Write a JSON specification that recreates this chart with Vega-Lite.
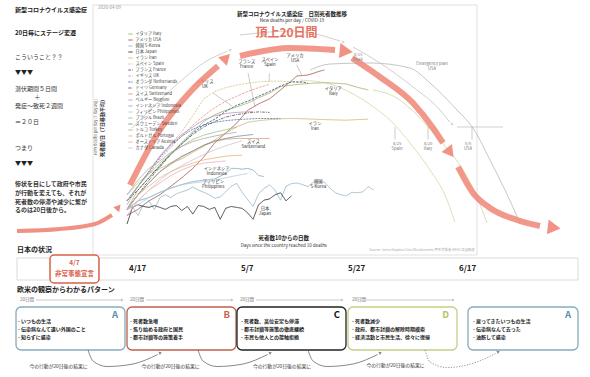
{
"$schema":"https://vega.github.io/schema/vega-lite/v6.json",
"width":590,"height":377,"autosize":"none","padding":0,"background":"white",
"config":{"view":{"stroke":null},"font":"Noto Sans CJK JP","text":{"font":"Noto Sans CJK JP"}},
"resolve":{"scale":{"y":"independent","color":"independent","stroke":"independent","strokeDash":"independent","angle":"independent"}},
"layer":[
{
"encoding":{"x":{"field":"d","type":"quantitative","scale":{"domain":[-23.16,84.44],"nice":false,"zero":false},"axis":null},
"y":{"field":"y","type":"quantitative","scale":{"domain":[0,377],"nice":false,"zero":false,"reverse":true},"axis":null}},
"layer":[
{"data":{"values":[{"d1":-6.2,"d2":63.83,"y1":5,"y2":255}]},"mark":{"type":"rect","fill":"white","stroke":"#d9d9d9","strokeWidth":0.8},
"encoding":{"x":{"field":"d1","type":"quantitative","scale":{"domain":[-23.16,84.44],"nice":false,"zero":false},"axis":null},"x2":{"field":"d2"},"y":{"field":"y1","type":"quantitative","scale":{"domain":[0,377],"nice":false,"zero":false,"reverse":true},"axis":null},"y2":{"field":"y2"}}},
{"data":{"values":[{"d1":-20.06,"d2":82.25,"y1":258,"y2":280}]},"mark":{"type":"rect","fillOpacity":0,"stroke":"#d0d0d0","strokeWidth":0.8},
"encoding":{"x":{"field":"d1","type":"quantitative","scale":{"domain":[-23.16,84.44],"nice":false,"zero":false},"axis":null},"x2":{"field":"d2"},"y":{"field":"y1","type":"quantitative","scale":{"domain":[0,377],"nice":false,"zero":false,"reverse":true},"axis":null},"y2":{"field":"y2"}}},
{"data":{"values":[{"d":0},{"d":20},{"d":40},{"d":60}]},"mark":{"type":"rule","stroke":"#cccccc","strokeWidth":0.7},
"encoding":{"y":{"datum":224,"type":"quantitative","scale":{"domain":[0,377],"nice":false,"zero":false,"reverse":true},"axis":null},"y2":{"datum":300}}},
{"data":{"values":[{"t":"新型コロナウイルス感染症","d":-20.43,"y":10},{"t":"20日毎にステージ変遷","d":-20.43,"y":33},{"t":"▼▼▼","d":-20.43,"y":72},{"t":"▼▼▼","d":-20.43,"y":163}]},
"mark":{"type":"text","align":"left","baseline":"middle","fontSize":6,"fontWeight":"bold","color":"#222"},"encoding":{"text":{"field":"t"}}},
{"data":{"values":[{"t":"こういうこと？？","d":-20.43,"y":57},{"t":"潜伏期間５日間","d":-20.43,"y":89},{"t":"発症〜致死２週間","d":-20.43,"y":106},{"t":"＝２０日","d":-20.43,"y":122},{"t":"つまり","d":-20.43,"y":148},{"t":"＋","d":-16.9,"y":97}]},
"mark":{"type":"text","align":"left","baseline":"middle","fontSize":6,"color":"#333"},"encoding":{"text":{"field":"t"}}},
{"data":{"values":[{"t":"惨状を目にして政府や市民","d":-20.43,"y":184},{"t":"が行動を変えても、それが","d":-20.43,"y":193},{"t":"死者数の停滞や減少に繋が","d":-20.43,"y":202},{"t":"るのは20日後から。","d":-20.43,"y":210}]},
"mark":{"type":"text","align":"left","baseline":"middle","fontSize":6,"fontWeight":"bold","color":"#333"},"encoding":{"text":{"field":"t"}}},
{"data":{"values":[{"d":-20.06,"y":231},{"d":-12.22,"y":229},{"d":-5.84,"y":224},{"d":-2.74,"y":215}]},
"mark":{"type":"line","interpolate":"monotone","stroke":"#ee8676","strokeWidth":4,"opacity":0.9,"strokeCap":"butt"},"encoding":{}},
{"data":{"values":[{"d":-1.7,"y":208}]},"mark":{"type":"point","shape":"triangle","angle":40,"size":60,"filled":true,"color":"#ee8676","opacity":0.95},"encoding":{}},
{"data":{"values":[{"t":"2020-04-09","d":-5.29,"y":8}]},"mark":{"type":"text","align":"left","fontSize":4.5,"color":"#999"},"encoding":{"text":{"field":"t"}}},
{"data":{"values":[{"t":"新型コロナウイルス感染症　日別死者数推移","d":30.09,"y":14},{"t":"死者数10からの日数","d":28.6,"y":238}]},"mark":{"type":"text","fontSize":5.5,"fontWeight":"bold","color":"#222"},"encoding":{"text":{"field":"t"}}},
{"data":{"values":[{"t":"New deaths per day / COVID-19","d":30.09,"y":21},{"t":"Days since the country reached 10 deaths","d":28.6,"y":246}]},"mark":{"type":"text","fontSize":4.5,"color":"#333"},"encoding":{"text":{"field":"t"}}},
{"data":{"values":[{"t":"0","d":0},{"t":"10","d":10},{"t":"20","d":20},{"t":"30","d":30},{"t":"40","d":40},{"t":"50","d":50},{"t":"60","d":60}]},"mark":{"type":"text","fontSize":4.5,"color":"#444"},
"encoding":{"y":{"datum":229.5,"type":"quantitative","scale":{"domain":[0,377],"nice":false,"zero":false,"reverse":true},"axis":null},"text":{"field":"t"}}},
{"data":{"values":[{"t":"Source: Johns Hopkins Univ/Worldometer/厚生労働省/WHO/各国報道","d":63.4,"y":250}]},"mark":{"type":"text","align":"right","fontSize":3.3,"color":"#aaa"},"encoding":{"text":{"field":"t"}}},
{"data":{"values":[{"t":"死者数/日（7日移動平均）","d":-4.5,"y":127}]},"mark":{"type":"text","angle":270,"fontSize":5,"fontWeight":"bold","color":"#333"},"encoding":{"text":{"field":"t"}}},
{"data":{"values":[{"t":"New deaths per day (7-day avg)","d":-5.6,"y":127}]},"mark":{"type":"text","angle":270,"fontSize":3.8,"color":"#555"},"encoding":{"text":{"field":"t"}}},
{"data":{"values":[{"t":"日本の状況","d":-20.06,"y":250},{"t":"欧米の観察からわかるパターン","d":-20.06,"y":290}]},"mark":{"type":"text","align":"left","fontSize":7,"fontWeight":"bold","color":"#222"},"encoding":{"text":{"field":"t"}}},
{"data":{"values":[{"d1":-14.04,"d2":-5.11,"y1":255,"y2":283}]},"mark":{"type":"rect","fill":"white","stroke":"#d9604a","strokeWidth":1.5,"cornerRadius":4},
"encoding":{"x":{"field":"d1","type":"quantitative","scale":{"domain":[-23.16,84.44],"nice":false,"zero":false},"axis":null},"x2":{"field":"d2"},"y":{"field":"y1","type":"quantitative","scale":{"domain":[0,377],"nice":false,"zero":false,"reverse":true},"axis":null},"y2":{"field":"y2"}}},
{"data":{"values":[{"t":"4/7","d":-9.58,"y":263},{"t":"非常事態宣言","d":-9.58,"y":273.5}]},"mark":{"type":"text","fontSize":6.5,"fontWeight":"bold","color":"#d9604a"},"encoding":{"text":{"field":"t"}}},
{"data":{"values":[{"t":"4/17","d":0.36,"y":269},{"t":"5/7","d":20.79,"y":269},{"t":"5/27","d":40.3,"y":269},{"t":"6/17","d":60.55,"y":269}]},"mark":{"type":"text","align":"left","fontSize":8,"fontWeight":"bold","color":"#222"},"encoding":{"text":{"field":"t"}}},
{"data":{"values":[{"t":"20日間","d":-19.51,"y":300},{"t":"20日間","d":0.55,"y":300},{"t":"20日間","d":20.61,"y":300},{"t":"20日間","d":41.04,"y":300}]},"mark":{"type":"text","align":"left","fontSize":4.5,"color":"#777"},"encoding":{"text":{"field":"t"}}},
{"data":{"values":[{"d1":-16.6,"d2":-0.91,"y":300},{"d1":3.47,"d2":19.15,"y":300},{"d1":23.53,"d2":39.21,"y":300},{"d1":43.59,"d2":59.46,"y":300}]},"mark":{"type":"rule","stroke":"#aaaaaa","strokeWidth":0.6},
"encoding":{"x":{"field":"d1","type":"quantitative","scale":{"domain":[-23.16,84.44],"nice":false,"zero":false},"axis":null},"x2":{"field":"d2"}}},
{"data":{"values":[{"d":-0.91,"y":300},{"d":19.15,"y":300},{"d":39.21,"y":300},{"d":59.46,"y":300}]},"mark":{"type":"point","shape":"triangle","angle":90,"size":8,"filled":true,"color":"#aaaaaa"},"encoding":{}},
{"data":{"values":[{"b":"A","d1":-20.24,"d2":-0.36,"y1":307,"y2":350},{"b":"B","d1":0,"d2":19.88,"y1":307,"y2":350},{"b":"C","d1":20.06,"d2":39.94,"y1":307,"y2":350},{"b":"D","d1":40.31,"d2":60.19,"y1":307,"y2":350},{"b":"A2","d1":62.19,"d2":82.25,"y1":307,"y2":350}]},
"mark":{"type":"rect","fill":"white","strokeWidth":1.3,"cornerRadius":5},
"encoding":{"x":{"field":"d1","type":"quantitative","scale":{"domain":[-23.16,84.44],"nice":false,"zero":false},"axis":null},"x2":{"field":"d2"},"y":{"field":"y1","type":"quantitative","scale":{"domain":[0,377],"nice":false,"zero":false,"reverse":true},"axis":null},"y2":{"field":"y2"},
"stroke":{"field":"b","type":"nominal","scale":{"domain":["A","B","C","D","A2"],"range":["#86aabd","#bd5f4b","#222222","#c3cf88","#86aabd"]},"legend":null}}},
{"data":{"values":[{"b":"A","t":"A","d":-1.64,"y":315},{"b":"B","t":"B","d":18.79,"y":315},{"b":"C","t":"C","d":38.85,"y":315},{"b":"D","t":"D","d":58.73,"y":315},{"b":"A2","t":"A","d":80.98,"y":315}]},
"mark":{"type":"text","align":"right","fontSize":9.5,"fontWeight":"bold"},
"encoding":{"text":{"field":"t"},"color":{"field":"b","type":"nominal","scale":{"domain":["A","B","C","D","A2"],"range":["#5a8db0","#c9604a","#111111","#b5c46a","#5a8db0"]},"legend":null}}},
{"data":{"values":[
{"t":"- いつもの生活","d":-19.88,"y":321},{"t":"- 伝染病なんて遠い外国のこと","d":-19.88,"y":329},{"t":"- 知らずに感染","d":-19.88,"y":337},
{"t":"- 死者数急増","d":0.55,"y":321},{"t":"- 焦り始める政府と国民","d":0.55,"y":329},{"t":"- 都市封鎖等の施策着手","d":0.55,"y":337},
{"t":"- 死者数、高位安定も停滞","d":20.79,"y":321},{"t":"- 都市封鎖等施策の徹底継続","d":20.79,"y":329},{"t":"- 市民も他人との接触拒絶","d":20.79,"y":337},
{"t":"- 死者数減少","d":41.04,"y":321},{"t":"- 政府、都市封鎖の解除時期模索","d":41.04,"y":329},{"t":"- 経済活動と市民生活、徐々に復帰","d":41.04,"y":337},
{"t":"- 戻ってきたいつもの生活","d":63.1,"y":321},{"t":"- 伝染病なんて去った","d":63.1,"y":329},{"t":"- 油断して感染","d":63.1,"y":337}]},
"mark":{"type":"text","align":"left","fontSize":5,"fontWeight":"bold","color":"#222"},"encoding":{"text":{"field":"t"}}},
{"data":{"values":[
{"a":"AB","d":-7.11,"y":350},{"a":"AB","d":-6.2,"y":361},{"a":"AB","d":-3.65,"y":366.5},{"a":"AB","d":1.09,"y":364},{"a":"AB","d":5.6,"y":354.5},
{"a":"BC","d":12.95,"y":350},{"a":"BC","d":13.86,"y":361},{"a":"BC","d":16.41,"y":366.5},{"a":"BC","d":21.15,"y":364},{"a":"BC","d":25.66,"y":354.5},
{"a":"CD","d":33.01,"y":350},{"a":"CD","d":33.92,"y":361},{"a":"CD","d":36.47,"y":366.5},{"a":"CD","d":41.21,"y":364},{"a":"CD","d":45.72,"y":354.5}]},
"mark":{"type":"line","interpolate":"monotone","stroke":"#555555","strokeWidth":0.7},"encoding":{"detail":{"field":"a"}}},
{"data":{"values":[{"d":54.35,"y":350},{"d":55.26,"y":362},{"d":58.36,"y":367.5},{"d":63.83,"y":362},{"d":67.2,"y":353.5}]},
"mark":{"type":"line","interpolate":"monotone","stroke":"#777777","strokeWidth":0.8,"strokeDash":[1.2,1.5]},"encoding":{}},
{"data":{"values":[{"d":6.02,"y":353},{"d":26.08,"y":353},{"d":46.14,"y":353},{"d":67.66,"y":352}]},"mark":{"type":"point","shape":"triangle","angle":65,"size":12,"filled":true,"color":"#555555"},"encoding":{}},
{"data":{"values":[{"t":"今の行動が20日後の結果に","d":-12.49,"y":367},{"t":"今の行動が20日後の結果に","d":7.93,"y":367},{"t":"今の行動が20日後の結果に","d":28.27,"y":367},{"t":"今の行動が20日後の結果に","d":48.97,"y":366}]},
"mark":{"type":"text","fontSize":4.8,"color":"#333"},"encoding":{"text":{"field":"t"}}}
]
},
{
"encoding":{"x":{"field":"d","type":"quantitative","scale":{"domain":[-23.16,84.44],"nice":false,"zero":false},"axis":null},
"y":{"field":"v","type":"quantitative","scale":{"type":"log","domain":[0.0007,41550],"nice":false},"axis":null}},
"layer":[
{"data":{"values":[{"d":2},{"d":4},{"d":6},{"d":8},{"d":12},{"d":14},{"d":16},{"d":18},{"d":22},{"d":24},{"d":26},{"d":28},{"d":32},{"d":34},{"d":36},{"d":38},{"d":42},{"d":44},{"d":46},{"d":48},{"d":52},{"d":54},{"d":56},{"d":58}]},
"mark":{"type":"rule","stroke":"#ebebeb","strokeWidth":0.5},"encoding":{"y":{"datum":1,"type":"quantitative","scale":{"type":"log","domain":[0.0007,41550],"nice":false},"axis":null},"y2":{"datum":10000}}},
{"data":{"values":[{"v":2},{"v":3},{"v":4},{"v":5},{"v":6},{"v":7},{"v":8},{"v":9},{"v":20},{"v":30},{"v":40},{"v":50},{"v":60},{"v":70},{"v":80},{"v":90},{"v":200},{"v":300},{"v":400},{"v":500},{"v":600},{"v":700},{"v":800},{"v":900},{"v":2000},{"v":3000},{"v":4000},{"v":5000},{"v":6000},{"v":7000},{"v":8000},{"v":9000}]},
"mark":{"type":"rule","stroke":"#ebebeb","strokeWidth":0.5},"encoding":{"x":{"datum":0,"type":"quantitative","scale":{"domain":[-23.16,84.44],"nice":false,"zero":false},"axis":null},"x2":{"datum":60}}},
{"data":{"values":[{"d":0},{"d":10},{"d":30},{"d":50},{"d":60}]},
"mark":{"type":"rule","stroke":"#d4d4d4","strokeWidth":0.6},"encoding":{"y":{"datum":1,"type":"quantitative","scale":{"type":"log","domain":[0.0007,41550],"nice":false},"axis":null},"y2":{"datum":10000}}},
{"data":{"values":[{"v":1},{"v":10},{"v":100},{"v":1000},{"v":10000}]},
"mark":{"type":"rule","stroke":"#cfcfcf","strokeWidth":0.6},"encoding":{"x":{"datum":0,"type":"quantitative","scale":{"domain":[-23.16,84.44],"nice":false,"zero":false},"axis":null},"x2":{"datum":60}}},
{"data":{"values":[{"d":20},{"d":40}]},
"mark":{"type":"rule","stroke":"#a8a8a8","strokeWidth":0.7},"encoding":{"y":{"datum":1,"type":"quantitative","scale":{"type":"log","domain":[0.0007,41550],"nice":false},"axis":null},"y2":{"datum":10000}}},
{"data":{"values":[{"t":"10,000","v":10000},{"t":"1,000","v":1000},{"t":"100","v":100},{"t":"10","v":10},{"t":"1","v":1}]},
"mark":{"type":"text","align":"right","fontSize":4.5,"color":"#444"},"encoding":{"x":{"datum":-0.91,"type":"quantitative","scale":{"domain":[-23.16,84.44],"nice":false,"zero":false},"axis":null},"text":{"field":"t"}}},
{"data":{"values":[
{"p":"US","d":33.38,"v":1497},{"p":"US","d":37.02,"v":1991},{"p":"US","d":44.32,"v":2089},{"p":"US","d":51.61,"v":1646},{"p":"US","d":55.26,"v":808},{"p":"US","d":60.19,"v":224},{"p":"US","d":63.1,"v":95.4},{"p":"US","d":66.2,"v":20.9},{"p":"US","d":68.94,"v":5.02},{"p":"US","d":71.68,"v":1.05},
{"p":"ES","d":31.55,"v":931},{"p":"ES","d":37.02,"v":770},{"p":"ES","d":41.58,"v":457},{"p":"ES","d":45.23,"v":246},{"p":"ES","d":47.97,"v":139},{"p":"ES","d":51.61,"v":46.8},{"p":"ES","d":55.26,"v":13},{"p":"ES","d":57.99,"v":3.96},{"p":"ES","d":59.81,"v":1.1},
{"p":"IT","d":44.87,"v":579},{"p":"IT","d":48.88,"v":416},{"p":"IT","d":51.98,"v":224},{"p":"IT","d":54.9,"v":100},{"p":"IT","d":58,"v":40.6},{"p":"IT","d":61.28,"v":13},{"p":"IT","d":63.83,"v":3.6},{"p":"IT","d":65.66,"v":1.05}]},
"mark":{"type":"line","interpolate":"monotone","strokeWidth":0.8},
"encoding":{"stroke":{"field":"p","type":"nominal","scale":{"domain":["US","ES","IT"],"range":["#b8b8b8","#dcd4a6","#cdd7a4"]},"legend":null}}},
{"data":{"values":[{"d1":60.19,"d2":68.57,"v":100}]},"mark":{"type":"rule","stroke":"#b0b0b0","strokeWidth":0.6},
"encoding":{"x":{"field":"d1","type":"quantitative","scale":{"domain":[-23.16,84.44],"nice":false,"zero":false},"axis":null},"x2":{"field":"d2"}}},
{"data":{"values":[{"d":48.88,"v1":100,"v2":55},{"d":54.9,"v1":100,"v2":55},{"d":62.92,"v1":100,"v2":55}]},"mark":{"type":"rule","stroke":"#999999","strokeWidth":0.5},
"encoding":{"y":{"field":"v1","type":"quantitative","scale":{"type":"log","domain":[0.0007,41550],"nice":false},"axis":null},"y2":{"field":"v2"}}},
{"data":{"values":[{"t":"4/25\nSpain","d":49.24,"v":50},{"t":"4/20\nItaly","d":54.9,"v":50},{"t":"5/5\nUSA","d":62.19,"v":50},{"t":"Emergency plan\nUSA","d":55.63,"v":2188}]},
"mark":{"type":"text","baseline":"top","lineBreak":"\n","lineHeight":5,"fontSize":4.2,"color":"#777"},"encoding":{"text":{"field":"t"}}},
{"data":{"values":[
{"c":"イタリア Italy","d":0,"v":2},{"c":"イタリア Italy","d":2,"v":5},{"c":"イタリア Italy","d":4,"v":9},{"c":"イタリア Italy","d":6,"v":16},{"c":"イタリア Italy","d":8,"v":28},{"c":"イタリア Italy","d":10,"v":48},{"c":"イタリア Italy","d":12,"v":80},{"c":"イタリア Italy","d":14,"v":130},{"c":"イタリア Italy","d":16,"v":180},{"c":"イタリア Italy","d":18,"v":220},{"c":"イタリア Italy","d":20,"v":260},{"c":"イタリア Italy","d":22,"v":310},{"c":"イタリア Italy","d":24,"v":400},{"c":"イタリア Italy","d":26,"v":500},{"c":"イタリア Italy","d":28,"v":680},{"c":"イタリア Italy","d":30,"v":730},{"c":"イタリア Italy","d":32,"v":770},{"c":"イタリア Italy","d":34,"v":800},{"c":"イタリア Italy","d":36,"v":820},{"c":"イタリア Italy","d":38,"v":800},{"c":"イタリア Italy","d":40,"v":770},{"c":"イタリア Italy","d":42,"v":660},{"c":"イタリア Italy","d":44,"v":580},
{"c":"アメリカ USA","d":0,"v":1.5},{"c":"アメリカ USA","d":2,"v":2},{"c":"アメリカ USA","d":4,"v":3},{"c":"アメリカ USA","d":6,"v":4},{"c":"アメリカ USA","d":8,"v":6},{"c":"アメリカ USA","d":10,"v":9},{"c":"アメリカ USA","d":12,"v":14},{"c":"アメリカ USA","d":14,"v":24},{"c":"アメリカ USA","d":16,"v":47},{"c":"アメリカ USA","d":18,"v":75},{"c":"アメリカ USA","d":20,"v":120},{"c":"アメリカ USA","d":22,"v":220},{"c":"アメリカ USA","d":24,"v":300},{"c":"アメリカ USA","d":26,"v":380},{"c":"アメリカ USA","d":28,"v":580},{"c":"アメリカ USA","d":30,"v":900},{"c":"アメリカ USA","d":31,"v":1130},{"c":"アメリカ USA","d":32,"v":1150},{"c":"アメリカ USA","d":33,"v":1180},{"c":"アメリカ USA","d":34,"v":1280},{"c":"アメリカ USA","d":35,"v":1400},{"c":"アメリカ USA","d":36,"v":1500},
{"c":"韓国 S-Korea","d":0,"v":2},{"c":"韓国 S-Korea","d":1,"v":2.3},{"c":"韓国 S-Korea","d":2,"v":1.5},{"c":"韓国 S-Korea","d":3,"v":2.5},{"c":"韓国 S-Korea","d":4,"v":3},{"c":"韓国 S-Korea","d":5,"v":2},{"c":"韓国 S-Korea","d":6,"v":3.5},{"c":"韓国 S-Korea","d":7,"v":4},{"c":"韓国 S-Korea","d":8,"v":3.5},{"c":"韓国 S-Korea","d":9,"v":4.2},{"c":"韓国 S-Korea","d":10,"v":4.6},{"c":"韓国 S-Korea","d":11,"v":5},{"c":"韓国 S-Korea","d":12,"v":5.8},{"c":"韓国 S-Korea","d":13,"v":5},{"c":"韓国 S-Korea","d":14,"v":4.5},{"c":"韓国 S-Korea","d":15,"v":4},{"c":"韓国 S-Korea","d":16,"v":3.4},{"c":"韓国 S-Korea","d":17,"v":3.6},{"c":"韓国 S-Korea","d":18,"v":4.6},{"c":"韓国 S-Korea","d":19,"v":6},{"c":"韓国 S-Korea","d":20,"v":6.9},{"c":"韓国 S-Korea","d":21,"v":4.5},{"c":"韓国 S-Korea","d":22,"v":3.2},{"c":"韓国 S-Korea","d":23,"v":2.3},{"c":"韓国 S-Korea","d":24,"v":4.2},{"c":"韓国 S-Korea","d":25,"v":5.4},{"c":"韓国 S-Korea","d":26,"v":6.4},{"c":"韓国 S-Korea","d":27,"v":5},{"c":"韓国 S-Korea","d":28,"v":3.1},{"c":"韓国 S-Korea","d":29,"v":6},{"c":"韓国 S-Korea","d":30,"v":6.8},{"c":"韓国 S-Korea","d":31,"v":7},{"c":"韓国 S-Korea","d":32,"v":6.5},{"c":"韓国 S-Korea","d":33,"v":5.9},{"c":"韓国 S-Korea","d":34,"v":7.3},{"c":"韓国 S-Korea","d":35,"v":7.5},{"c":"韓国 S-Korea","d":36,"v":7.3},{"c":"韓国 S-Korea","d":37,"v":5.5},{"c":"韓国 S-Korea","d":38,"v":4.4},{"c":"韓国 S-Korea","d":39,"v":4},{"c":"韓国 S-Korea","d":40,"v":3.8},{"c":"韓国 S-Korea","d":41,"v":4.5},{"c":"韓国 S-Korea","d":42,"v":4.4},{"c":"韓国 S-Korea","d":43,"v":4.6},{"c":"韓国 S-Korea","d":44,"v":5.9},{"c":"韓国 S-Korea","d":45,"v":5},
{"c":"日本 Japan","d":0,"v":1},{"c":"日本 Japan","d":1,"v":2.2},{"c":"日本 Japan","d":2,"v":2.5},{"c":"日本 Japan","d":3,"v":2.3},{"c":"日本 Japan","d":4,"v":2.2},{"c":"日本 Japan","d":5,"v":2.4},{"c":"日本 Japan","d":6,"v":2.2},{"c":"日本 Japan","d":7,"v":2},{"c":"日本 Japan","d":8,"v":2.3},{"c":"日本 Japan","d":9,"v":2.4},{"c":"日本 Japan","d":10,"v":1.9},{"c":"日本 Japan","d":11,"v":2.3},{"c":"日本 Japan","d":12,"v":1.6},{"c":"日本 Japan","d":13,"v":2.4},{"c":"日本 Japan","d":14,"v":2.3},{"c":"日本 Japan","d":15,"v":2},{"c":"日本 Japan","d":16,"v":2.2},{"c":"日本 Japan","d":17,"v":1.25},{"c":"日本 Japan","d":18,"v":2.1},{"c":"日本 Japan","d":19,"v":2.3},{"c":"日本 Japan","d":20,"v":2.2},{"c":"日本 Japan","d":21,"v":2.1},{"c":"日本 Japan","d":22,"v":1.7},{"c":"日本 Japan","d":23,"v":1.25},{"c":"日本 Japan","d":24,"v":2.5},{"c":"日本 Japan","d":25,"v":3.1},{"c":"日本 Japan","d":26,"v":3.3},{"c":"日本 Japan","d":27,"v":4},{"c":"日本 Japan","d":28,"v":4.4},{"c":"日本 Japan","d":29,"v":3},{"c":"日本 Japan","d":30,"v":3.8},
{"c":"イラン Iran","d":0,"v":4},{"c":"イラン Iran","d":2,"v":7},{"c":"イラン Iran","d":4,"v":11},{"c":"イラン Iran","d":6,"v":14},{"c":"イラン Iran","d":8,"v":18},{"c":"イラン Iran","d":10,"v":22},{"c":"イラン Iran","d":12,"v":30},{"c":"イラン Iran","d":14,"v":40},{"c":"イラン Iran","d":16,"v":54},{"c":"イラン Iran","d":18,"v":75},{"c":"イラン Iran","d":20,"v":100},{"c":"イラン Iran","d":22,"v":125},{"c":"イラン Iran","d":24,"v":135},{"c":"イラン Iran","d":26,"v":142},{"c":"イラン Iran","d":28,"v":148},{"c":"イラン Iran","d":30,"v":150},{"c":"イラン Iran","d":32,"v":148},{"c":"イラン Iran","d":34,"v":145},{"c":"イラン Iran","d":36,"v":142},{"c":"イラン Iran","d":38,"v":140},{"c":"イラン Iran","d":40,"v":138},{"c":"イラン Iran","d":42,"v":142},{"c":"イラン Iran","d":44,"v":145},
{"c":"スペイン Spain","d":0,"v":3},{"c":"スペイン Spain","d":2,"v":6},{"c":"スペイン Spain","d":4,"v":12},{"c":"スペイン Spain","d":6,"v":25},{"c":"スペイン Spain","d":8,"v":45},{"c":"スペイン Spain","d":10,"v":80},{"c":"スペイン Spain","d":12,"v":170},{"c":"スペイン Spain","d":14,"v":380},{"c":"スペイン Spain","d":16,"v":540},{"c":"スペイン Spain","d":18,"v":650},{"c":"スペイン Spain","d":20,"v":730},{"c":"スペイン Spain","d":22,"v":800},{"c":"スペイン Spain","d":24,"v":850},{"c":"スペイン Spain","d":26,"v":880},{"c":"スペイン Spain","d":28,"v":880},{"c":"スペイン Spain","d":30,"v":860},{"c":"スペイン Spain","d":32,"v":830},
{"c":"フランス France","d":0,"v":3},{"c":"フランス France","d":2,"v":5},{"c":"フランス France","d":4,"v":9},{"c":"フランス France","d":6,"v":16},{"c":"フランス France","d":8,"v":28},{"c":"フランス France","d":10,"v":45},{"c":"フランス France","d":12,"v":75},{"c":"フランス France","d":14,"v":110},{"c":"フランス France","d":16,"v":145},{"c":"フランス France","d":18,"v":210},{"c":"フランス France","d":20,"v":280},{"c":"フランス France","d":22,"v":340},{"c":"フランス France","d":24,"v":430},{"c":"フランス France","d":26,"v":540},{"c":"フランス France","d":28,"v":700},{"c":"フランス France","d":30,"v":850},{"c":"フランス France","d":32,"v":850},{"c":"フランス France","d":33,"v":800},
{"c":"イギリス UK","d":0,"v":3},{"c":"イギリス UK","d":2,"v":6},{"c":"イギリス UK","d":4,"v":11},{"c":"イギリス UK","d":6,"v":22},{"c":"イギリス UK","d":8,"v":38},{"c":"イギリス UK","d":10,"v":65},{"c":"イギリス UK","d":12,"v":110},{"c":"イギリス UK","d":14,"v":170},{"c":"イギリス UK","d":16,"v":250},{"c":"イギリス UK","d":18,"v":340},{"c":"イギリス UK","d":20,"v":430},{"c":"イギリス UK","d":22,"v":540},{"c":"イギリス UK","d":24,"v":650},{"c":"イギリス UK","d":26,"v":760},
{"c":"オランダ Netherlands","d":0,"v":3},{"c":"オランダ Netherlands","d":2,"v":6},{"c":"オランダ Netherlands","d":4,"v":12},{"c":"オランダ Netherlands","d":6,"v":24},{"c":"オランダ Netherlands","d":8,"v":42},{"c":"オランダ Netherlands","d":10,"v":65},{"c":"オランダ Netherlands","d":12,"v":90},{"c":"オランダ Netherlands","d":14,"v":110},{"c":"オランダ Netherlands","d":16,"v":125},{"c":"オランダ Netherlands","d":18,"v":135},{"c":"オランダ Netherlands","d":20,"v":142},{"c":"オランダ Netherlands","d":22,"v":146},{"c":"オランダ Netherlands","d":24,"v":150},{"c":"オランダ Netherlands","d":26,"v":150},{"c":"オランダ Netherlands","d":28,"v":148},
{"c":"ドイツ Germany","d":0,"v":2},{"c":"ドイツ Germany","d":2,"v":4},{"c":"ドイツ Germany","d":4,"v":8},{"c":"ドイツ Germany","d":6,"v":15},{"c":"ドイツ Germany","d":8,"v":27},{"c":"ドイツ Germany","d":10,"v":45},{"c":"ドイツ Germany","d":12,"v":70},{"c":"ドイツ Germany","d":14,"v":100},{"c":"ドイツ Germany","d":16,"v":130},{"c":"ドイツ Germany","d":18,"v":160},{"c":"ドイツ Germany","d":20,"v":180},{"c":"ドイツ Germany","d":22,"v":195},{"c":"ドイツ Germany","d":24,"v":205},{"c":"ドイツ Germany","d":26,"v":200},
{"c":"スイス Switzerland","d":0,"v":2},{"c":"スイス Switzerland","d":2,"v":4},{"c":"スイス Switzerland","d":4,"v":7},{"c":"スイス Switzerland","d":6,"v":12},{"c":"スイス Switzerland","d":8,"v":17},{"c":"スイス Switzerland","d":10,"v":24},{"c":"スイス Switzerland","d":12,"v":32},{"c":"スイス Switzerland","d":14,"v":42},{"c":"スイス Switzerland","d":16,"v":50},{"c":"スイス Switzerland","d":18,"v":56},{"c":"スイス Switzerland","d":20,"v":58},{"c":"スイス Switzerland","d":22,"v":58},{"c":"スイス Switzerland","d":24,"v":58},{"c":"スイス Switzerland","d":26,"v":58},
{"c":"ベルギー Belgium","d":0,"v":2.5},{"c":"ベルギー Belgium","d":2,"v":6},{"c":"ベルギー Belgium","d":4,"v":12},{"c":"ベルギー Belgium","d":6,"v":25},{"c":"ベルギー Belgium","d":8,"v":45},{"c":"ベルギー Belgium","d":10,"v":70},{"c":"ベルギー Belgium","d":12,"v":100},{"c":"ベルギー Belgium","d":14,"v":140},{"c":"ベルギー Belgium","d":16,"v":170},{"c":"ベルギー Belgium","d":18,"v":190},{"c":"ベルギー Belgium","d":20,"v":200},{"c":"ベルギー Belgium","d":22,"v":205},{"c":"ベルギー Belgium","d":23,"v":210},
{"c":"インドネシア Indonesia","d":0,"v":2},{"c":"インドネシア Indonesia","d":2,"v":3},{"c":"インドネシア Indonesia","d":4,"v":3.5},{"c":"インドネシア Indonesia","d":6,"v":4.5},{"c":"インドネシア Indonesia","d":8,"v":5.5},{"c":"インドネシア Indonesia","d":10,"v":6.5},{"c":"インドネシア Indonesia","d":12,"v":7.5},{"c":"インドネシア Indonesia","d":14,"v":8},{"c":"インドネシア Indonesia","d":16,"v":8.5},{"c":"インドネシア Indonesia","d":18,"v":11},{"c":"インドネシア Indonesia","d":19,"v":14},{"c":"インドネシア Indonesia","d":20,"v":14},{"c":"インドネシア Indonesia","d":21,"v":13.5},{"c":"インドネシア Indonesia","d":22,"v":14},{"c":"インドネシア Indonesia","d":23,"v":13},{"c":"インドネシア Indonesia","d":24,"v":10},{"c":"インドネシア Indonesia","d":25,"v":9.5},
{"c":"フィリピン Philippines","d":0,"v":2},{"c":"フィリピン Philippines","d":2,"v":2.5},{"c":"フィリピン Philippines","d":4,"v":3.5},{"c":"フィリピン Philippines","d":6,"v":4.5},{"c":"フィリピン Philippines","d":8,"v":5.5},{"c":"フィリピン Philippines","d":10,"v":6.5},{"c":"フィリピン Philippines","d":12,"v":7},{"c":"フィリピン Philippines","d":14,"v":7.5},{"c":"フィリピン Philippines","d":16,"v":8},{"c":"フィリピン Philippines","d":18,"v":9},{"c":"フィリピン Philippines","d":20,"v":10},{"c":"フィリピン Philippines","d":22,"v":11},
{"c":"ブラジル Brazil","d":0,"v":3},{"c":"ブラジル Brazil","d":2,"v":6},{"c":"ブラジル Brazil","d":4,"v":11},{"c":"ブラジル Brazil","d":6,"v":18},{"c":"ブラジル Brazil","d":8,"v":28},{"c":"ブラジル Brazil","d":10,"v":40},{"c":"ブラジル Brazil","d":12,"v":55},{"c":"ブラジル Brazil","d":14,"v":68},{"c":"ブラジル Brazil","d":16,"v":78},{"c":"ブラジル Brazil","d":18,"v":88},{"c":"ブラジル Brazil","d":20,"v":100},
{"c":"スウェーデン Sweden","d":0,"v":2},{"c":"スウェーデン Sweden","d":2,"v":4},{"c":"スウェーデン Sweden","d":4,"v":7},{"c":"スウェーデン Sweden","d":6,"v":12},{"c":"スウェーデン Sweden","d":8,"v":18},{"c":"スウェーデン Sweden","d":10,"v":25},{"c":"スウェーデン Sweden","d":12,"v":32},{"c":"スウェーデン Sweden","d":14,"v":42},{"c":"スウェーデン Sweden","d":16,"v":52},{"c":"スウェーデン Sweden","d":18,"v":58},{"c":"スウェーデン Sweden","d":20,"v":64},{"c":"スウェーデン Sweden","d":22,"v":68},{"c":"スウェーデン Sweden","d":23,"v":70},
{"c":"トルコ Turkey","d":0,"v":4},{"c":"トルコ Turkey","d":2,"v":8},{"c":"トルコ Turkey","d":4,"v":14},{"c":"トルコ Turkey","d":6,"v":20},{"c":"トルコ Turkey","d":8,"v":30},{"c":"トルコ Turkey","d":10,"v":40},{"c":"トルコ Turkey","d":12,"v":50},{"c":"トルコ Turkey","d":14,"v":58},{"c":"トルコ Turkey","d":16,"v":65},{"c":"トルコ Turkey","d":18,"v":72},{"c":"トルコ Turkey","d":20,"v":78},
{"c":"ポルトガル Portugal","d":0,"v":2},{"c":"ポルトガル Portugal","d":2,"v":4},{"c":"ポルトガル Portugal","d":4,"v":6},{"c":"ポルトガル Portugal","d":6,"v":9},{"c":"ポルトガル Portugal","d":8,"v":12},{"c":"ポルトガル Portugal","d":10,"v":15},{"c":"ポルトガル Portugal","d":12,"v":18},{"c":"ポルトガル Portugal","d":14,"v":21},{"c":"ポルトガル Portugal","d":16,"v":23},{"c":"ポルトガル Portugal","d":18,"v":25},{"c":"ポルトガル Portugal","d":20,"v":26},{"c":"ポルトガル Portugal","d":21,"v":26},
{"c":"オーストリア Austria","d":0,"v":1.5},{"c":"オーストリア Austria","d":2,"v":3},{"c":"オーストリア Austria","d":4,"v":5},{"c":"オーストリア Austria","d":6,"v":7},{"c":"オーストリア Austria","d":8,"v":10},{"c":"オーストリア Austria","d":10,"v":13},{"c":"オーストリア Austria","d":12,"v":16},{"c":"オーストリア Austria","d":14,"v":18},{"c":"オーストリア Austria","d":16,"v":19},{"c":"オーストリア Austria","d":18,"v":20},
{"c":"カナダ Canada","d":0,"v":2},{"c":"カナダ Canada","d":2,"v":3},{"c":"カナダ Canada","d":4,"v":5},{"c":"カナダ Canada","d":6,"v":8},{"c":"カナダ Canada","d":8,"v":12},{"c":"カナダ Canada","d":10,"v":16},{"c":"カナダ Canada","d":12,"v":21},{"c":"カナダ Canada","d":14,"v":27},{"c":"カナダ Canada","d":16,"v":34},{"c":"カナダ Canada","d":18,"v":41},{"c":"カナダ Canada","d":20,"v":48},{"c":"カナダ Canada","d":21,"v":52}]},
"mark":{"type":"line","strokeWidth":0.8},
"encoding":{
"color":{"field":"c","type":"nominal","scale":{"domain":["イタリア Italy","アメリカ USA","韓国 S-Korea","日本 Japan","イラン Iran","スペイン Spain","フランス France","イギリス UK","オランダ Netherlands","ドイツ Germany","スイス Switzerland","ベルギー Belgium","インドネシア Indonesia","フィリピン Philippines","ブラジル Brazil","スウェーデン Sweden","トルコ Turkey","ポルトガル Portugal","オーストリア Austria","カナダ Canada"],"range":["#9bb05a","#9e4b3f","#8db3c5","#222222","#c9b66b","#cfc07a","#2e4a7a","#e3908a","#4a6fa5","#555555","#d98a6c","#b38fc4","#7aa6c2","#a9c6d8","#8cc084","#6b8f9a","#b0a0a0","#e6b07a","#e8a5b5","#c6bcd0"]},
"legend":{"orient":"none","legendX":127.5,"legendY":31,"title":null,"direction":"vertical","labelFontSize":4.2,"labelColor":"#444","labelFont":"Noto Sans CJK JP","symbolType":"stroke","symbolSize":18,"symbolStrokeWidth":0.9,"rowPadding":0,"labelOffset":2,"padding":0,"labelLimit":120}},
"strokeDash":{"field":"c","type":"nominal","scale":{"domain":["イタリア Italy","アメリカ USA","韓国 S-Korea","日本 Japan","イラン Iran","スペイン Spain","フランス France","イギリス UK","オランダ Netherlands","ドイツ Germany","スイス Switzerland","ベルギー Belgium","インドネシア Indonesia","フィリピン Philippines","ブラジル Brazil","スウェーデン Sweden","トルコ Turkey","ポルトガル Portugal","オーストリア Austria","カナダ Canada"],"range":[[1,0],[1,0],[1,0],[1,0],[1,0],[2,1.2],[2.5,1.2],[2.5,1.2],[2,1],[3,1,1,1],[1,0],[1,0],[1,0],[1,0],[1,0],[1,0],[1,0],[1,0],[1,0],[1,0]]},
"legend":{"orient":"none","legendX":127.5,"legendY":31,"title":null,"direction":"vertical","labelFontSize":4.2,"labelColor":"#444","labelFont":"Noto Sans CJK JP","symbolType":"stroke","symbolSize":18,"symbolStrokeWidth":0.9,"rowPadding":0,"labelOffset":2,"padding":0,"labelLimit":120}},
"strokeWidth":{"condition":{"test":"datum.c === '日本 Japan'","value":1.6},"value":0.8}}},
{"data":{"values":[{"t":"イギリス\nUK","d":14.2,"v":931},{"t":"フランス\nFrance","d":21.83,"v":2405},{"t":"スペイン\nSpain","d":26.08,"v":2647},{"t":"アメリカ\nUSA","d":30.64,"v":3201},{"t":"イタリア\nItaly","d":37.63,"v":668},{"t":"イラン\nIran","d":34.29,"v":127},{"t":"スイス\nSwitzerland","d":23.04,"v":54},{"t":"インドネシア\nIndonesia","d":16.36,"v":14.97},{"t":"フィリピン\nPhilippines","d":15.74,"v":8.08},{"t":"韓国\nS-Korea","d":34.89,"v":8.08},{"t":"日本\nJapan","d":25.17,"v":2.24}]},
"mark":{"type":"text","baseline":"top","lineBreak":"\n","lineHeight":5,"fontSize":4.3,"color":"#333"},"encoding":{"text":{"field":"t"}}},
{"data":{"values":[{"id":"UK","d":15.68,"v":502},{"id":"UK","d":19.15,"v":271},{"id":"FR","d":22.07,"v":1298},{"id":"FR","d":23.35,"v":258},{"id":"ES","d":25.95,"v":1279},{"id":"ES","d":25.95,"v":859},{"id":"US","d":30.95,"v":1897},{"id":"US","d":31.86,"v":1181}]},
"mark":{"type":"line","stroke":"#999999","strokeWidth":0.5},"encoding":{"detail":{"field":"id"}}},
{"data":{"values":[
{"a":"rise","d":0.91,"v":95.4},{"a":"rise","d":5.11,"v":284},{"a":"rise","d":10.03,"v":931},{"a":"rise","d":14.23,"v":2188},{"a":"rise","d":18.3,"v":3650},
{"a":"top","d":20.61,"v":7889},{"a":"top","d":30.09,"v":9534},{"a":"top","d":38.9,"v":5900},
{"a":"down","d":41.22,"v":4460},{"a":"down","d":46.14,"v":2089},{"a":"down","d":52.16,"v":668},{"a":"down","d":57.09,"v":224},{"a":"down","d":58.9,"v":125}]},
"mark":{"type":"line","interpolate":"monotone","stroke":"#c4c4c4","strokeWidth":0.8},"encoding":{"detail":{"field":"a"}}},
{"data":{"values":[{"d":18.79,"v":3870}]},"mark":{"type":"point","shape":"triangle","angle":64,"size":12,"filled":true,"color":"#c4c4c4"},"encoding":{}},
{"data":{"values":[{"d":39.39,"v":5660}]},"mark":{"type":"point","shape":"triangle","angle":101,"size":12,"filled":true,"color":"#c4c4c4"},"encoding":{}},
{"data":{"values":[{"d":59.27,"v":115}]},"mark":{"type":"point","shape":"triangle","angle":139,"size":12,"filled":true,"color":"#c4c4c4"},"encoding":{}},
{"data":{"values":[
{"a":"rise","d":0.55,"v":6.37},{"a":"rise","d":5.65,"v":75.2},{"a":"rise","d":11.85,"v":579},{"a":"rise","d":16.6,"v":1811},
{"a":"top","d":20.61,"v":2911},{"a":"top","d":29.73,"v":4256},{"a":"top","d":37.94,"v":3870},
{"a":"down","d":41.04,"v":2647},{"a":"down","d":46.14,"v":1074},{"a":"down","d":52.16,"v":312},{"a":"down","d":55.81,"v":95.4},{"a":"down","d":57.63,"v":46.8},
{"a":"tail","d":60.37,"v":15},{"a":"tail","d":63.1,"v":4.36},{"a":"tail","d":66.2,"v":2.14},{"a":"tail","d":71.13,"v":1.21},{"a":"tail","d":75.32,"v":0.91}]},
"mark":{"type":"line","interpolate":"monotone","stroke":"#ef8677","strokeWidth":6,"opacity":0.85,"strokeCap":"butt"},"encoding":{"detail":{"field":"a"}}},
{"data":{"values":[{"d":17.87,"v":2524}]},"mark":{"type":"point","shape":"triangle","angle":45,"size":150,"filled":true,"color":"#ef8677","opacity":0.9},"encoding":{}},
{"data":{"values":[{"d":39.58,"v":3690}]},"mark":{"type":"point","shape":"triangle","angle":96,"size":230,"filled":true,"color":"#ef8677","opacity":0.9},"encoding":{}},
{"data":{"values":[{"d":58.73,"v":32}]},"mark":{"type":"point","shape":"triangle","angle":143,"size":170,"filled":true,"color":"#ef8677","opacity":0.9},"encoding":{}},
{"data":{"values":[{"d":77.51,"v":0.85}]},"mark":{"type":"point","shape":"triangle","angle":97,"size":220,"filled":true,"color":"#ef8677","opacity":0.9},"encoding":{}},
{"data":{"values":[{"t":"4/15\nPeak","d":42.13,"v":3356}]},"mark":{"type":"text","baseline":"top","lineBreak":"\n","lineHeight":5,"fontSize":4.2,"color":"#888"},"encoding":{"text":{"field":"t"}}},
{"data":{"values":[{"t":"頂上20日間","d":29.09,"v":8878}]},"mark":{"type":"text","fontSize":12,"fontWeight":"bold","color":"#e8705e"},"encoding":{"text":{"field":"t"}}}
]
}
]
}
